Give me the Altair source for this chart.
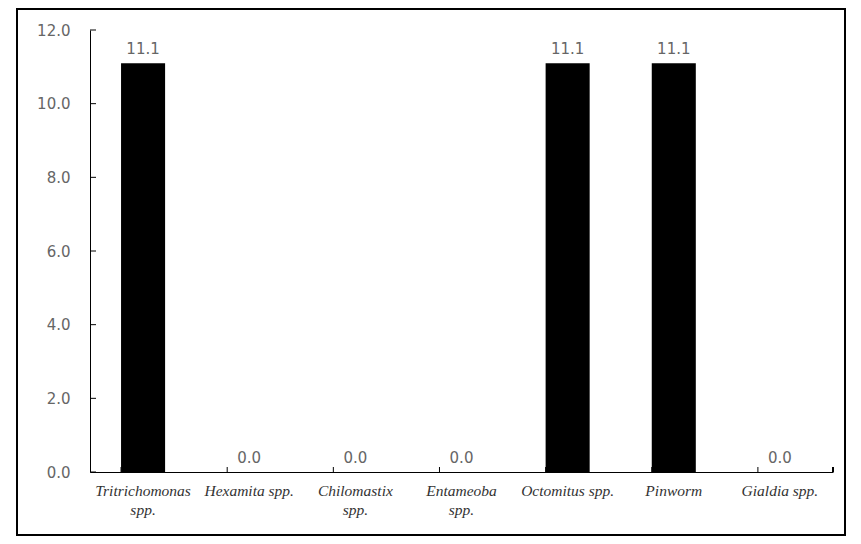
import altair as alt
import pandas as pd

categories = ["Tritrichomonas\nspp.", "Hexamita spp.", "Chilomastix\nspp.", "Entameoba\nspp.",
              "Octomitus spp.", "Pinworm", "Gialdia spp."]
values = [11.1, 0.0, 0.0, 0.0, 11.1, 11.1, 0.0]
y_ticks = [0, 2, 4, 6, 8, 10, 12]

df = pd.DataFrame({"cat": categories, "val": values})
ticks_df = pd.DataFrame({"t": y_ticks})

W, H = 743, 442

xs = alt.Scale(domain=categories, paddingInner=0.585, paddingOuter=0.2925)
ys = alt.Scale(domain=[0, 12], nice=False)

bars = alt.Chart(df).mark_bar(color="black").encode(
    x=alt.X("cat:N", scale=xs, sort=None, title=None,
            axis=alt.Axis(labelExpr="split(datum.label, '\\n')", labelAngle=0,
                          labelFont="Liberation Serif", labelFontStyle="italic",
                          labelFontSize=15.5, labelColor="#333", labelLineHeight=19,
                          labelBaseline="top", labelPadding=11, ticks=False,
                          domainColor="black", domainWidth=1)),
    y=alt.Y("val:Q", scale=ys, title=None,
            axis=alt.Axis(values=y_ticks, format=".1f", ticks=False, grid=False,
                          labelFont="DejaVu Sans", labelFontSize=15, labelColor="#666",
                          labelPadding=20, domainColor="black")),
)

labels = alt.Chart(df).mark_text(baseline="bottom", dy=-6, font="DejaVu Sans",
                                 fontSize=15, color="#666").encode(
    x=alt.X("cat:N", scale=xs, sort=None),
    y=alt.Y("val:Q", scale=ys),
    text=alt.Text("val:Q", format=".1f"),
)

ytick_rules = alt.Chart(ticks_df).mark_rule(color="black").encode(
    y=alt.Y("t:Q", scale=ys),
    x=alt.value(0),
    x2=alt.value(6),
)

xtick_rules = alt.Chart(df).mark_rule(color="black").encode(
    x=alt.X("cat:N", scale=xs, sort=None, bandPosition=0),
    y=alt.value(H),
    y2=alt.value(H - 5),
)

end_tick = alt.Chart(df).mark_rule(color="black").encode(
    x=alt.value(W),
    y=alt.value(H),
    y2=alt.value(H - 5),
)

frame = alt.Chart(df).mark_rect(fill=None, stroke="black", strokeWidth=1.5).encode(
    x=alt.value(-73),
    x2=alt.value(755),
    y=alt.value(-21),
    y2=alt.value(505),
)

chart = alt.layer(frame, bars, labels, ytick_rules, xtick_rules, end_tick).properties(
    width=W, height=H,
    autosize=alt.AutoSizeParams(type="none"),
    padding={"left": 82, "top": 22, "right": 20, "bottom": 70},
).configure(background="white").configure_view(stroke=None)

chart.save("out.html", embed_options={"renderer": "svg", "actions": False})
